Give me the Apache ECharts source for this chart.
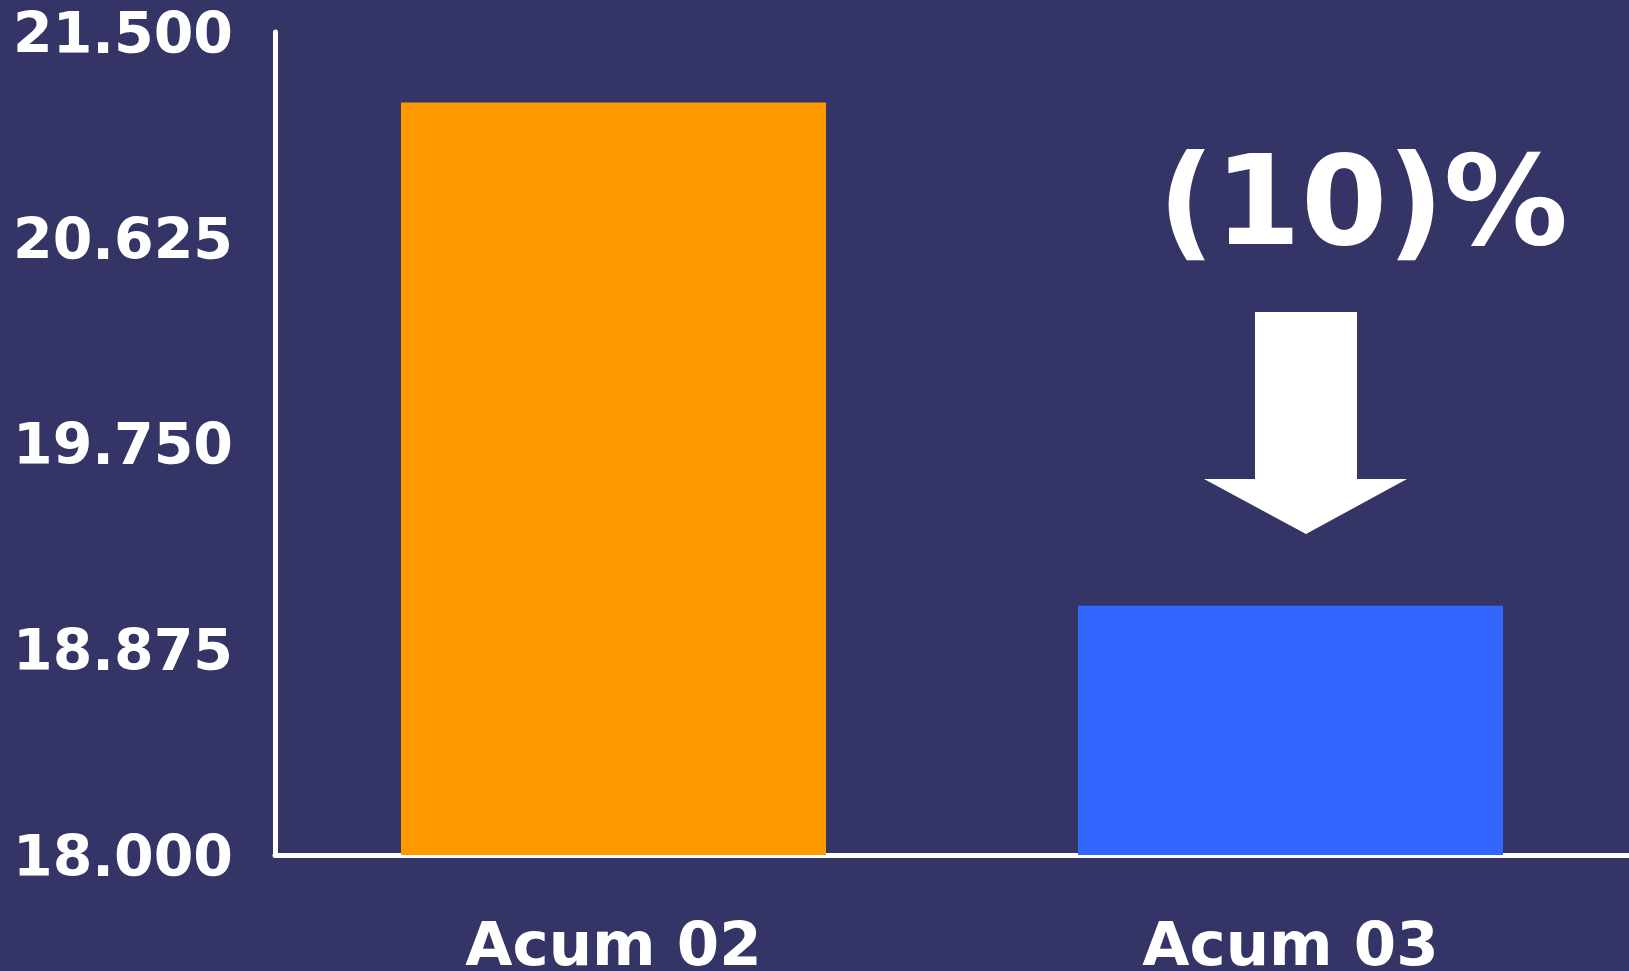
<!DOCTYPE html>
<html>
<head>
<meta charset="utf-8">
<script src="https://cdn.jsdelivr.net/npm/echarts@6/dist/echarts.min.js"></script>
<style>
html,body{margin:0;padding:0;background:#343466;}
#chart{width:1629px;height:971px;}
</style>
</head>
<body>
<div id="chart"></div>
<script>
const categories = ['Acum 02', 'Acum 03'];
const values = [21200, 19060];
const barColors = ['#FF9900', '#3366FF'];
const yTicks = [18000, 18875, 19750, 20625, 21500];
const changeLabel = '(10)%';

function fmt(v) {
  const s = String(Math.round(v));
  return s.replace(/\B(?=(\d{3})+(?!\d))/g, '.');
}

const FONT = '"DejaVu Sans", Verdana, sans-serif';
const chart = echarts.init(document.getElementById('chart'), null, {renderer: 'canvas'});
chart.setOption({
  backgroundColor: '#343466',
  animation: false,
  grid: {left: 275, right: 0, top: 32, bottom: 116, containLabel: false, outerBoundsMode: 'none'},
  xAxis: {
    type: 'category',
    data: categories,
    axisLine: {show: true, lineStyle: {color: '#FFFFFF', width: 5}},
    axisTick: {show: false},
    axisLabel: {color: '#FFFFFF', fontSize: 61, fontWeight: 'bold', fontFamily: FONT, margin: 64, interval: 0}
  },
  yAxis: {
    type: 'value',
    min: yTicks[0],
    max: yTicks[yTicks.length - 1],
    axisLine: {show: true, lineStyle: {color: '#FFFFFF', width: 5, cap: 'round'}},
    axisTick: {show: false},
    splitLine: {show: false},
    axisLabel: {
      color: '#FFFFFF', fontSize: 57, fontWeight: 'bold', fontFamily: FONT, margin: 42,
      verticalAlign: 'top', lineHeight: 12,
      customValues: yTicks,
      formatter: fmt
    }
  },
  series: [{
    type: 'bar',
    barWidth: 425,
    data: values.map((v, i) => ({value: v, itemStyle: {color: barColors[i]}})),
    label: {show: false}
  }],
  graphic: [
    {
      type: 'polygon',
      shape: {points: [[1255,312],[1357,312],[1357,479],[1407,479],[1306,534],[1204,479],[1255,479]]},
      style: {fill: '#FFFFFF'}
    },
    {
      type: 'text',
      x: 1363, y: 212,
      style: {
        text: changeLabel, fill: '#FFFFFF', font: 'bold 124px "DejaVu Sans", Verdana, sans-serif',
        textAlign: 'center', textVerticalAlign: 'middle'
      }
    }
  ]
});
</script>
</body>
</html>
